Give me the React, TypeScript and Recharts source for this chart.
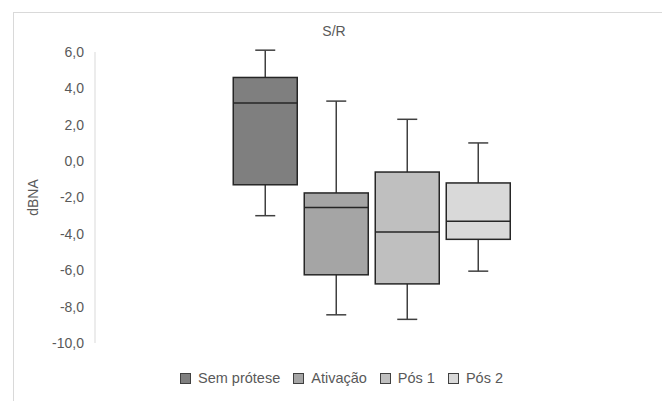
import { ComposedChart, Bar, XAxis, YAxis } from 'recharts';

// S/R box plot (dBNA) — one category, four series
const categories = ['S/R'];
const seriesNames = ['Sem prótese', 'Ativação', 'Pós 1', 'Pós 2'];
const mins = [-3.0, -8.45, -8.7, -6.05];
const q1s = [-1.3, -6.25, -6.75, -4.3];
const medians = [3.2, -2.55, -3.9, -3.3];
const q3s = [4.6, -1.75, -0.6, -1.2];
const maxs = [6.1, 3.3, 2.3, 1.0];
const yTicks = [-10, -8, -6, -4, -2, 0, 2, 4, 6];

const fills = ['#7f7f7f', '#a5a5a5', '#bfbfbf', '#d9d9d9'];
const FONT = '"Liberation Sans", Arial, sans-serif';
const TEXT = '#595959';
const EDGE = '#262626';

const chartData = categories.map((name) => {
  const row: Record<string, unknown> = { name };
  seriesNames.forEach((_, i) => {
    row[`s${i}`] = [q1s[i], q3s[i]];
  });
  return row;
});

function BoxShape(props: any) {
  const { x, y, width, height, si } = props;
  const top = Math.min(y, y + height);
  const h = Math.abs(height);
  // px per unit from the bar's own scaled extent
  const k = h / (q3s[si] - q1s[si]);
  const yOf = (v: number) => top + (q3s[si] - v) * k;
  const cx = x + width / 2;
  const cap = 10;
  return (
    <g>
      <line x1={cx} x2={cx} y1={yOf(maxs[si])} y2={top} stroke="#404040" strokeWidth={1.5} />
      <line x1={cx} x2={cx} y1={top + h} y2={yOf(mins[si])} stroke="#404040" strokeWidth={1.5} />
      <line x1={cx - cap} x2={cx + cap} y1={yOf(maxs[si])} y2={yOf(maxs[si])} stroke="#404040" strokeWidth={1.5} />
      <line x1={cx - cap} x2={cx + cap} y1={yOf(mins[si])} y2={yOf(mins[si])} stroke="#404040" strokeWidth={1.5} />
      <rect x={x} y={top} width={width} height={h} fill={fills[si]} stroke={EDGE} strokeWidth={1.5} />
      <line x1={x} x2={x + width} y1={yOf(medians[si])} y2={yOf(medians[si])} stroke={EDGE} strokeWidth={1.5} />
    </g>
  );
}

export default function App() {
  return (
    <div
      style={{
        position: 'fixed',
        left: 0,
        top: 0,
        width: 662,
        height: 401,
        background: '#fff',
        fontFamily: FONT,
        overflow: 'hidden',
      }}
    >
      <div
        style={{
          position: 'absolute',
          left: 13,
          top: 12,
          width: 660,
          height: 400,
          border: '1px solid #d9d9d9',
        }}
      />
      <div
        style={{
          position: 'absolute',
          left: 13,
          top: 22,
          width: 642,
          textAlign: 'center',
          fontSize: 14,
          lineHeight: '18px',
          color: TEXT,
        }}
      >
        S/R
      </div>

      <div style={{ position: 'absolute', left: 0, top: 0 }}>
        <ComposedChart
          width={662}
          height={401}
          data={chartData}
          margin={{ top: 52, right: 14, bottom: 58, left: 0 }}
          barCategoryGap="25%"
          barGap={7}
        >
          <XAxis dataKey="name" hide />
          <YAxis
            width={95}
            domain={[-10, 6]}
            ticks={yTicks}
            interval={0}
            tickFormatter={(v: number) => v.toFixed(1).replace('.', ',')}
            tickLine={false}
            tickMargin={5}
            axisLine={{ stroke: '#d9d9d9' }}
            tick={{ fill: TEXT, fontSize: 14, fontFamily: FONT }}
            label={({ viewBox }: any) => {
              const cy = viewBox.y + viewBox.height / 2;
              return (
                <text
                  x={33}
                  y={cy}
                  transform={`rotate(-90, 33, ${cy})`}
                  textAnchor="middle"
                  dominantBaseline="central"
                  fill={TEXT}
                  fontSize={14}
                  fontFamily={FONT}
                >
                  dBNA
                </text>
              );
            }}
          />
          {seriesNames.map((n, i) => (
            <Bar
              key={n}
              name={n}
              dataKey={`s${i}`}
              fill={fills[i]}
              isAnimationActive={false}
              shape={(p: any) => <BoxShape {...p} si={i} />}
            />
          ))}
        </ComposedChart>
      </div>

      {/* legend */}
      <div
        style={{
          position: 'absolute',
          left: 180,
          top: 369,
          display: 'flex',
          alignItems: 'center',
          fontSize: 14.5,
          lineHeight: '18px',
          color: TEXT,
        }}
      >
        {seriesNames.map((n, i) => (
          <span key={n} style={{ display: 'flex', alignItems: 'center', marginRight: 13 }}>
            <span
              style={{
                width: 11,
                height: 11,
                boxSizing: 'border-box',
                background: fills[i],
                border: '1.5px solid #404040',
                marginRight: 7,
              }}
            />
            {n}
          </span>
        ))}
      </div>
    </div>
  );
}
